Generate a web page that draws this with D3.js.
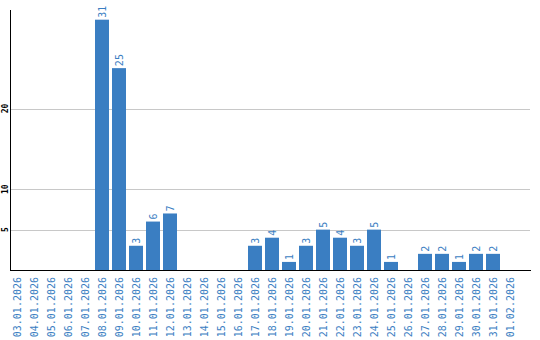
<!DOCTYPE html>
<html>
<head>
<meta charset="utf-8">
<script src="https://cdn.jsdelivr.net/npm/d3@7/dist/d3.min.js"></script>
<style>
  body { margin: 0; background: #fff; }
</style>
</head>
<body>
<div id="chart"></div>
<script>
const dates = ["03.01.2026", "04.01.2026", "05.01.2026", "06.01.2026", "07.01.2026",
    "08.01.2026", "09.01.2026", "10.01.2026", "11.01.2026", "12.01.2026",
    "13.01.2026", "14.01.2026", "15.01.2026", "16.01.2026", "17.01.2026",
    "18.01.2026", "19.01.2026", "20.01.2026", "21.01.2026", "22.01.2026",
    "23.01.2026", "24.01.2026", "25.01.2026", "26.01.2026", "27.01.2026",
    "28.01.2026", "29.01.2026", "30.01.2026", "31.01.2026", "01.02.2026"];
const counts = [0, 0, 0, 0, 0, 31, 25, 3, 6, 7,
    0, 0, 0, 0, 3, 4, 1, 3, 5, 4,
    3, 5, 1, 0, 2, 2, 1, 2, 2, 0];
const yTicks = [5, 10, 20];

const width = 540, height = 340;
const barColor = "#3a7ec2";
const mono = "'DejaVu Sans Mono', monospace";

const svg = d3.select("#chart").append("svg")
    .attr("width", width)
    .attr("height", height);

let xScale = d3.scaleBand().domain(dates).range([10, 520]).padding(0);
let yScale = d3.scaleLinear().domain([0, 32.2]).range([270, 10]);

// grid lines
svg.append("g")
    .selectAll("line")
    .data(yTicks)
    .join("line")
    .attr("x1", 11)
    .attr("x2", 530)
    .attr("y1", d => Math.round(yScale(d)) + 0.5)
    .attr("y2", d => Math.round(yScale(d)) + 0.5)
    .attr("stroke", "#c8c8c8")
    .attr("stroke-width", 1);

// y tick labels
svg.append("g")
    .selectAll("text")
    .data(yTicks)
    .join("text")
    .attr("transform", d => "translate(8," + yScale(d) + ") rotate(-90)")
    .attr("text-anchor", "middle")
    .style("font-family", mono)
    .style("font-size", "8px")
    .style("font-weight", "bold")
    .attr("fill", "#000")
    .text(d => d);

// bars
const data = dates.map((d, i) => ({ date: d, value: counts[i] }));

svg.append("g")
    .selectAll("rect")
    .data(data.filter(d => d.value > 0))
    .join("rect")
    .attr("x", d => xScale(d.date))
    .attr("y", d => yScale(d.value))
    .attr("width", xScale.bandwidth() - 3)
    .attr("height", d => yScale(0) - yScale(d.value))
    .attr("fill", barColor);

// value labels
svg.append("g")
    .selectAll("text")
    .data(data.filter(d => d.value > 0))
    .join("text")
    .attr("transform", d => "translate(" + (xScale(d.date) + (xScale.bandwidth() - 3) / 2) + "," + (yScale(d.value) - 2) + ") rotate(-90)")
    .attr("dy", "0.35em")
    .attr("text-anchor", "start")
    .style("font-family", mono)
    .style("font-size", "10px")
    .attr("fill", barColor)
    .text(d => d.value);

// axes lines
svg.append("line")
    .attr("x1", 10.5).attr("x2", 10.5)
    .attr("y1", 10).attr("y2", 270)
    .attr("stroke", "#000");

svg.append("line")
    .attr("x1", 10).attr("x2", 531)
    .attr("y1", 270.5).attr("y2", 270.5)
    .attr("stroke", "#000");

// x tick labels
svg.append("g")
    .selectAll("text")
    .data(dates)
    .join("text")
    .attr("transform", d => "translate(" + (xScale(d) + xScale.bandwidth() / 2 - 1) + ",277) rotate(-90)")
    .attr("dy", "0.35em")
    .attr("text-anchor", "end")
    .style("font-family", mono)
    .style("font-size", "10px")
    .attr("fill", barColor)
    .text(d => d);
</script>
</body>
</html>
